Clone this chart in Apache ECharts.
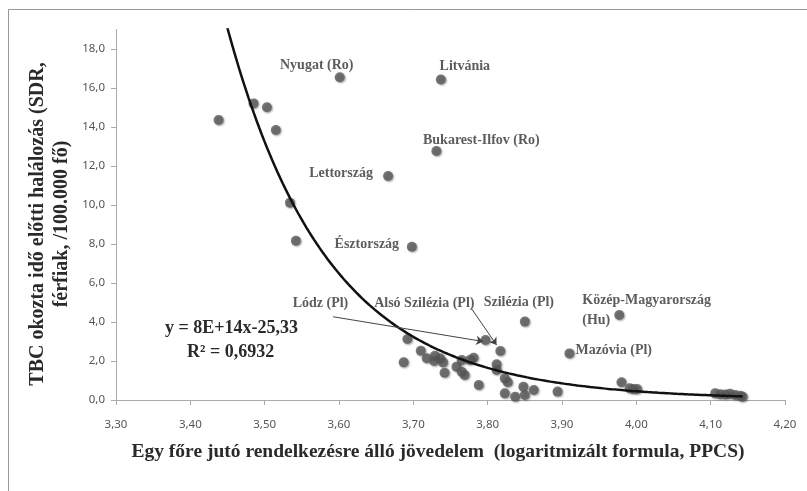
<!DOCTYPE html>
<html>
<head>
<meta charset="utf-8">
<script src="https://cdn.jsdelivr.net/npm/echarts@6/dist/echarts.min.js"></script>
<style>html,body{margin:0;padding:0;background:#fff}#c{width:807px;height:491px}</style>
</head>
<body>
<div id="c"></div>
<script>
// ---- data ----
var labeledNames = ['Nyugat (Ro)', 'Litvánia', 'Bukarest-Ilfov (Ro)', 'Lettország', 'Észtország',
  'Lódz (Pl)', 'Alsó Szilézia (Pl)', 'Szilézia (Pl)', 'Közép-Magyarország\n(Hu)', 'Mazóvia (Pl)'];
var labeledX = [3.601, 3.737, 3.731, 3.666, 3.698, 3.797, 3.817, 3.850, 3.977, 3.910];
var labeledY = [16.55, 16.44, 12.77, 11.49, 7.86, 3.08, 2.51, 4.02, 4.36, 2.39];

var otherX = [3.438, 3.485, 3.503, 3.515, 3.534, 3.542,
  3.692, 3.687, 3.710, 3.718, 3.729, 3.736, 3.728, 3.740, 3.742, 3.758, 3.765, 3.765, 3.769,
  3.781, 3.776, 3.788, 3.812, 3.812, 3.823, 3.827, 3.823, 3.837, 3.848, 3.850, 3.862, 3.894,
  3.980, 3.991, 3.996, 4.001,
  4.106, 4.113, 4.120, 4.126, 4.133, 4.140, 4.143];
var otherY = [14.36, 15.21, 15.01, 13.85, 10.12, 8.17,
  3.13, 1.93, 2.53, 2.14, 2.27, 2.14, 2.00, 1.93, 1.40, 1.71, 2.05, 1.45, 1.28,
  2.17, 2.05, 0.77, 1.83, 1.54, 1.11, 0.91, 0.34, 0.17, 0.68, 0.26, 0.51, 0.43,
  0.91, 0.60, 0.56, 0.56,
  0.34, 0.30, 0.28, 0.32, 0.26, 0.22, 0.17];

// trendline as labelled in the chart: y = 8E+14 x^-25,33
var trendA = 8e14;
var trendB = -25.33;
var trendXStart = 3.436, trendXEnd = 4.143;

var xTicks = [3.3, 3.4, 3.5, 3.6, 3.7, 3.8, 3.9, 4.0, 4.1, 4.2];
var yTicks = [0, 2, 4, 6, 8, 10, 12, 14, 16, 18];

var xTitle = 'Egy főre jutó rendelkezésre álló jövedelem  (logaritmizált formula, PPCS)';
var yTitle = 'TBC okozta idő előtti halálozás (SDR,\nférfiak, /100.000 fő)';
var eqLine1 = 'y = 8E+14x-25,33';
var eqLine2 = 'R² = 0,6932';

// ---- build ----
var labelStyle = {
  'Nyugat (Ro)': {offset: [-23, -12]},
  'Litvánia': {offset: [24, -13]},
  'Bukarest-Ilfov (Ro)': {offset: [45, -11]},
  'Lettország': {offset: [-47, -3]},
  'Észtország': {offset: [-45, -2]},
  'Lódz (Pl)': {offset: [-165, -37]},
  'Alsó Szilézia (Pl)': {offset: [-76, -48]},
  'Szilézia (Pl)': {offset: [-6, -19]},
  'Közép-Magyarország\n(Hu)': {offset: [-37, -5], align: 'left'},
  'Mazóvia (Pl)': {offset: [6, -3], align: 'left'}
};

var labeledData = labeledNames.map(function (n, i) {
  var s = labelStyle[n];
  return {
    name: n,
    value: [labeledX[i], labeledY[i]],
    label: {
      show: true, formatter: n, position: 'inside',
      align: s.align || 'center', verticalAlign: 'middle',
      offset: s.offset
    }
  };
});
var otherData = otherX.map(function (x, i) { return [x, otherY[i]]; });

var trendData = [];
for (var k = 0; k <= 200; k++) {
  var x = trendXStart + (trendXEnd - trendXStart) * k / 200;
  trendData.push([x, trendA * Math.pow(x, trendB)]);
}

var markerStyle = {
  color: '#5a5a5a',
  shadowColor: 'rgba(0,0,0,0.45)', shadowBlur: 2, shadowOffsetX: 1, shadowOffsetY: 1
};
var serif = '"Liberation Serif","Times New Roman",serif';

var chart = echarts.init(document.getElementById('c'), null, {renderer: 'canvas'});
chart.setOption({
  animation: false,
  backgroundColor: '#fff',
  grid: {left: 116, right: 22, top: 29.5, bottom: 91, containLabel: false},
  xAxis: {
    type: 'value', min: 3.3, max: 4.2,
    axisLine: {show: true, lineStyle: {color: '#aaa', width: 1}},
    axisTick: {show: true, customValues: xTicks, length: 5, lineStyle: {color: '#aaa'}},
    axisLabel: {customValues: xTicks, margin: 19, color: '#555', fontSize: 11.5, fontFamily: '"Noto Sans",sans-serif',
      formatter: function (v) { return v.toFixed(2).replace('.', ','); }},
    splitLine: {show: false}
  },
  yAxis: {
    type: 'value', min: 0, max: 19,
    axisLine: {show: true, lineStyle: {color: '#aaa', width: 1}},
    axisTick: {show: true, customValues: yTicks, length: 5, lineStyle: {color: '#aaa'}},
    axisLabel: {customValues: yTicks, margin: 11, color: '#555', fontSize: 11.5, fontFamily: '"Noto Sans",sans-serif',
      formatter: function (v) { return v.toFixed(1).replace('.', ','); }},
    splitLine: {show: false}
  },
  graphic: [
    {type: 'rect', shape: {x: 8.5, y: 9.5, width: 830, height: 520}, style: {fill: 'none', stroke: '#999', lineWidth: 1}, silent: true},
    {type: 'text', x: 438, y: 452, style: {text: xTitle, font: 'bold 19.5px ' + serif, fill: '#2a2a2a', align: 'center', verticalAlign: 'middle'}},
    {type: 'text', x: 50, y: 224, rotation: Math.PI / 2,
      style: {text: yTitle, font: 'bold 20px ' + serif, fill: '#2a2a2a', align: 'center', verticalAlign: 'middle', lineHeight: 24}},
    {type: 'text', left: 165, top: 319, style: {text: eqLine1, font: 'bold 18px ' + serif, fill: '#2a2a2a'}},
    {type: 'text', left: 187, top: 343, style: {text: eqLine2, font: 'bold 18px ' + serif, fill: '#2a2a2a'}}
  ],
  series: [
    {
      type: 'scatter', symbol: 'circle', symbolSize: 10, data: otherData,
      itemStyle: markerStyle, z: 2
    },
    {
      type: 'scatter', symbol: 'circle', symbolSize: 10, data: labeledData,
      itemStyle: markerStyle, z: 3,
      label: {fontFamily: serif, fontWeight: 'bold', fontSize: 14, color: '#333', lineHeight: 20},
      markLine: {
        silent: true, symbol: ['none', 'arrow'], symbolSize: 7,
        label: {show: false},
        lineStyle: {color: '#444', width: 1, type: 'solid'},
        data: [
          [{coord: [3.592, 4.27]}, {coord: [3.794, 3.00]}],
          [{coord: [3.778, 4.70]}, {coord: [3.812, 2.82]}]
        ]
      }
    },
    {
      type: 'line', data: trendData, showSymbol: false, symbol: 'none', smooth: false,
      lineStyle: {color: '#111', width: 2.5}, z: 4, clip: true
    }
  ]
});
</script>
</body>
</html>
